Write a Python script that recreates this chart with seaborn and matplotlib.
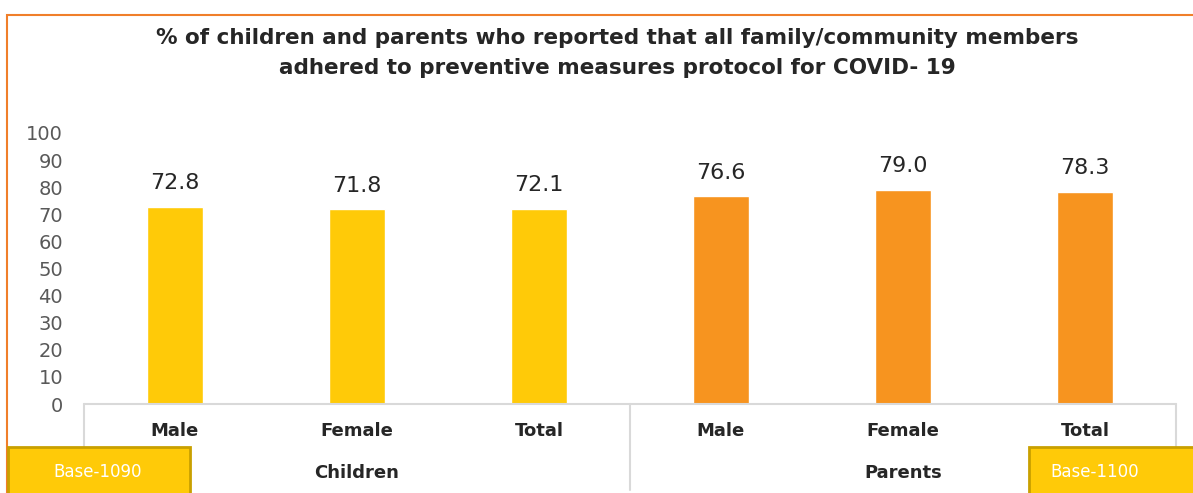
import matplotlib
matplotlib.use("Agg")
import matplotlib.pyplot as plt
from matplotlib.patches import Rectangle
from matplotlib.lines import Line2D
import matplotlib.transforms as mtransforms
import pandas as pd
import seaborn as sns

# data
groups = ["Children", "Children", "Children", "Parents", "Parents", "Parents"]
sexes = ["Male", "Female", "Total", "Male", "Female", "Total"]
values = [72.8, 71.8, 72.1, 76.6, 79.0, 78.3]
bases = ["Base-1090", "Base-1100"]
title = ("% of children and parents who reported that all family/community members\n"
         "adhered to preventive measures protocol for COVID- 19")
yticks = list(range(0, 101, 10))

colors = {"Children": "#FFCA08", "Parents": "#F7941F"}
dark = "#262626"
grid_grey = "#D9D9D9"

df = pd.DataFrame({
    "key": [f"{g}-{s}" for g, s in zip(groups, sexes)],
    "group": groups,
    "sex": sexes,
    "value": values,
})

sns.set_style("white")
plt.rcParams["font.family"] = ["DejaVu Sans"]

W, H = 1193, 493
fig = plt.figure(figsize=(W / 100, H / 100), dpi=100)
ax = fig.add_axes([84 / W, 1 - 404 / H, (1176 - 84) / W, (404 - 133) / H])

sns.barplot(data=df, x="key", y="value", hue="group", palette=colors,
            dodge=False, width=0.31, saturation=1, legend=False, ax=ax)

ax.set_ylim(0, 100)
ax.set_xlim(-0.5, len(df) - 0.5)
ax.set_yticks(yticks)
ax.set_yticklabels([str(t) for t in yticks], fontsize=14, color="#595959")
ax.tick_params(axis="y", length=0, pad=15)
ax.set_xticks(range(len(df)))
ax.set_xticklabels(df["sex"], fontsize=13, fontweight="bold", color=dark)
ax.tick_params(axis="x", length=0, pad=13)
ax.set_xlabel("")
ax.set_ylabel("")
for s in ax.spines.values():
    s.set_visible(False)

# value labels
for i, v in enumerate(df["value"]):
    ax.annotate(f"{v:.1f}", (i, v), xytext=(0, 10), textcoords="offset points",
                ha="center", va="bottom", fontsize=16, color=dark)

# multi-level category axis
tr = mtransforms.blended_transform_factory(ax.transData, ax.transAxes)
ax.add_line(Line2D([-0.5, len(df) - 0.5], [0, 0], transform=tr,
                   color=grid_grey, lw=1.5, clip_on=False))
n_lvl = (490 - 404) / (404 - 133)
for xs in [-0.5, 2.5, 5.5]:
    ax.add_line(Line2D([xs, xs], [0, -n_lvl], transform=tr,
                       color=grid_grey, lw=1.5, clip_on=False))
group_names = list(dict.fromkeys(groups))
for gi, g in enumerate(group_names):
    idx = [i for i, gg in enumerate(groups) if gg == g]
    xc = sum(idx) / len(idx)
    ax.text(xc, -(473 - 404) / (404 - 133), g, transform=tr, ha="center",
            va="center", fontsize=13, fontweight="bold", color=dark)

fig.text(617 / W, 1 - 53 / H, title, ha="center", va="center",
         fontsize=15.5, fontweight="bold", color=dark, linespacing=1.65)

# orange frame
fig.patches.append(Rectangle((7 / W, -0.1), 1.2, 1 - 15 / H + 0.1,
                             transform=fig.transFigure, fill=False,
                             edgecolor="#F07F2A", lw=1.5))

# base boxes
for (x0, x1, xt), txt in zip([(8, 190, 98), (1029, 1200, 1095)], bases):
    fig.patches.append(Rectangle((x0 / W, -0.05), (x1 - x0) / W, 0.05 + (493 - 447) / H,
                                 transform=fig.transFigure, facecolor="#FFCA08",
                                 edgecolor="#C9A000", lw=2))
    fig.text(xt / W, 1 - 472 / H, txt, ha="center", va="center",
             fontsize=12, color="white")

fig.savefig("out.png", dpi=100)
